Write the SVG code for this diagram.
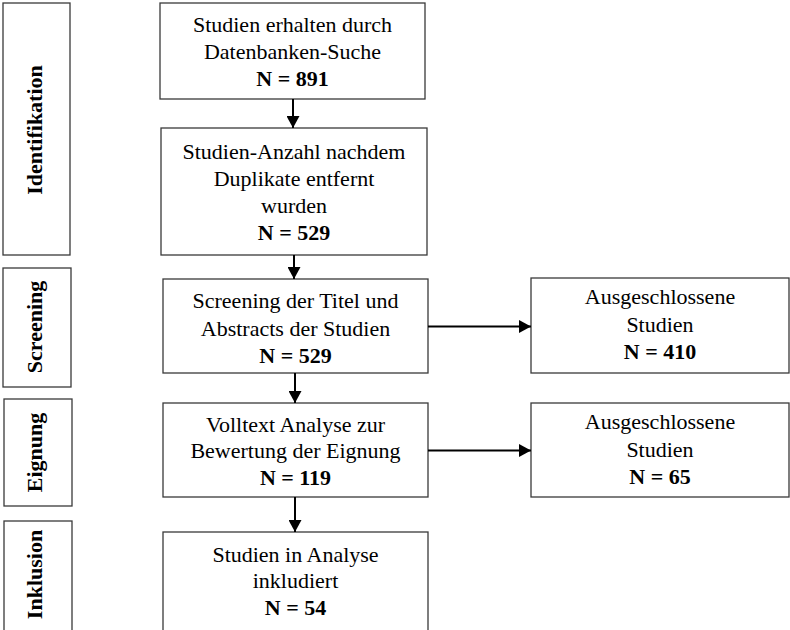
<svg xmlns="http://www.w3.org/2000/svg" width="790" height="630" viewBox="0 0 790 630">
  <style>
    .box { fill: #ffffff; stroke: #3a3a3a; stroke-width: 1.3; }
    .txt { font-family: "Liberation Serif", "Times New Roman", serif; font-size: 22px; fill: #000; text-anchor: middle; }
    .b { font-weight: bold; }
    .phase { font-family: "Liberation Serif", "Times New Roman", serif; font-size: 22px; font-weight: bold; fill: #000; text-anchor: middle; }
    .conn { stroke: #000; stroke-width: 2; fill: none; marker-end: url(#arrow); }
  </style>
  <defs>
    <marker id="arrow" markerUnits="userSpaceOnUse" markerWidth="13" markerHeight="13" refX="12" refY="6.5" orient="auto">
      <path d="M0,0 L12,6.5 L0,13 Z" fill="#000"/>
    </marker>
  </defs>
  <rect width="790" height="630" fill="#ffffff"/>

  <!-- phase labels -->
  <g id="phase-identifikation">
    <rect class="box" x="3" y="3" width="67" height="252"/>
    <text class="phase" transform="translate(42,130) rotate(-90)">Identifikation</text>
  </g>
  <g id="phase-screening">
    <rect class="box" x="3" y="268" width="68" height="119"/>
    <text class="phase" transform="translate(42,327) rotate(-90)">Screening</text>
  </g>
  <g id="phase-eignung">
    <rect class="box" x="4" y="399" width="68" height="107"/>
    <text class="phase" transform="translate(42,452.5) rotate(-90)">Eignung</text>
  </g>
  <g id="phase-inklusion">
    <rect class="box" x="4" y="521" width="68" height="130"/>
    <text class="phase" transform="translate(42,574.5) rotate(-90)">Inklusion</text>
  </g>

  <!-- flow boxes -->
  <g id="n-datenbank">
    <rect class="box" x="160" y="3" width="265" height="96"/>
    <text class="txt" x="292.5" y="32">Studien erhalten durch</text>
    <text class="txt" x="292.5" y="59">Datenbanken-Suche</text>
    <text class="txt b" x="292.5" y="86">N = 891</text>
  </g>
  <g id="n-duplikate">
    <rect class="box" x="161" y="128" width="266" height="127"/>
    <text class="txt" x="294" y="159">Studien-Anzahl nachdem</text>
    <text class="txt" x="294" y="186">Duplikate entfernt</text>
    <text class="txt" x="294" y="213">wurden</text>
    <text class="txt b" x="294" y="240">N = 529</text>
  </g>
  <g id="n-screening">
    <rect class="box" x="163" y="279" width="265" height="94"/>
    <text class="txt" x="295.5" y="308">Screening der Titel und</text>
    <text class="txt" x="295.5" y="336">Abstracts der Studien</text>
    <text class="txt b" x="295.5" y="363">N = 529</text>
  </g>
  <g id="n-volltext">
    <rect class="box" x="163" y="403" width="265" height="94"/>
    <text class="txt" x="295.5" y="432">Volltext Analyse zur</text>
    <text class="txt" x="295.5" y="458">Bewertung der Eignung</text>
    <text class="txt b" x="295.5" y="485">N = 119</text>
  </g>
  <g id="n-inklusion">
    <rect class="box" x="163" y="532" width="265" height="120"/>
    <text class="txt" x="295.5" y="562">Studien in Analyse</text>
    <text class="txt" x="295.5" y="588">inkludiert</text>
    <text class="txt b" x="295.5" y="615">N = 54</text>
  </g>
  <g id="n-excl-1">
    <rect class="box" x="531" y="278" width="258" height="95"/>
    <text class="txt" x="660" y="304">Ausgeschlossene</text>
    <text class="txt" x="660" y="332">Studien</text>
    <text class="txt b" x="660" y="359">N = 410</text>
  </g>
  <g id="n-excl-2">
    <rect class="box" x="531" y="403" width="258" height="94"/>
    <text class="txt" x="660" y="429">Ausgeschlossene</text>
    <text class="txt" x="660" y="457">Studien</text>
    <text class="txt b" x="660" y="484">N = 65</text>
  </g>

  <!-- connectors -->
  <g id="connectors">
    <line class="conn" x1="293" y1="99" x2="293" y2="128"/>
    <line class="conn" x1="294" y1="255" x2="294" y2="279"/>
    <line class="conn" x1="295" y1="373" x2="295" y2="403"/>
    <line class="conn" x1="295" y1="497" x2="295" y2="532"/>
    <line class="conn" x1="428" y1="326.5" x2="531" y2="326.5"/>
    <line class="conn" x1="428" y1="450.5" x2="531" y2="450.5"/>
  </g>
</svg>
